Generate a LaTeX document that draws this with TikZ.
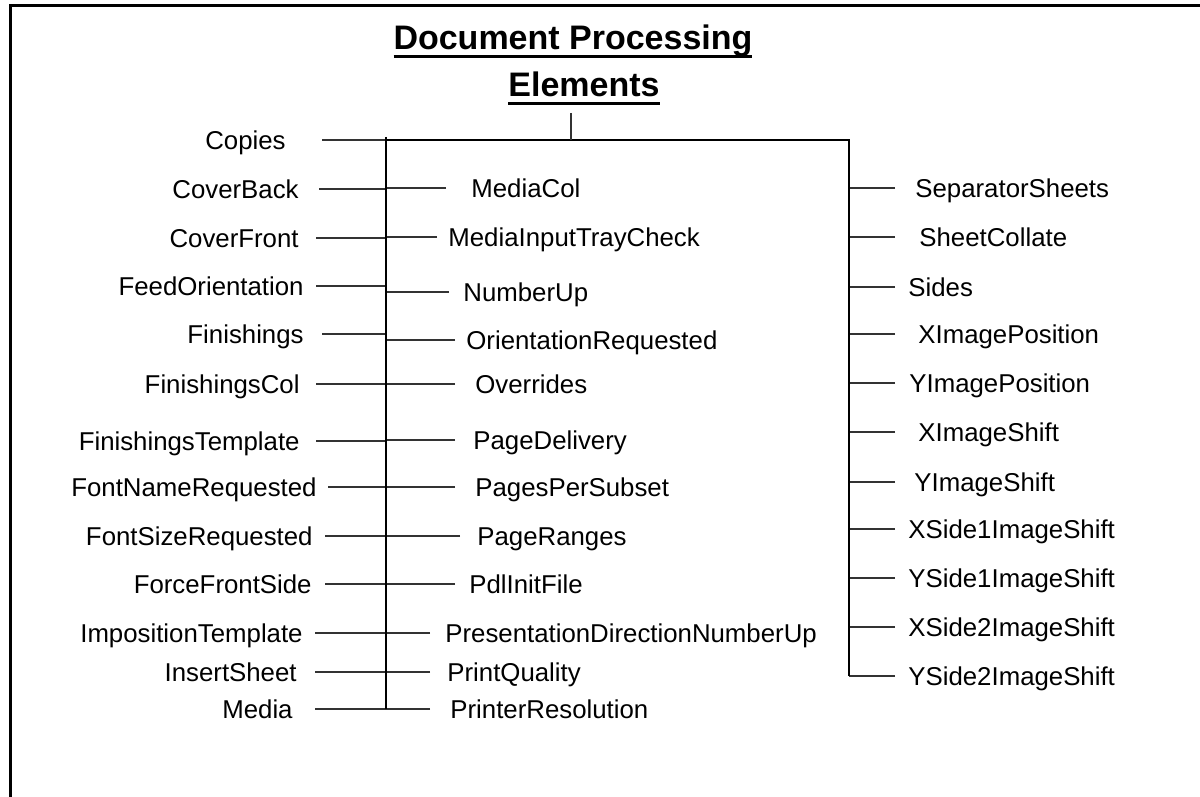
\documentclass[tikz,border=0pt]{standalone}
\usepackage{fontspec}
\setmainfont{Liberation Sans}
\usetikzlibrary{calc}

\newlength\ulwidth
\newcommand\ulbox[1]{\settowidth\ulwidth{#1}\rlap{\rule[-4.2pt]{\ulwidth}{1.5pt}}#1}

\begin{document}
\begin{tikzpicture}[x=0.5pt,y=-0.5pt,
  lbl/.style={inner sep=0pt, text height=9.2pt, text depth=0pt, font=\fontsize{12.9}{15}\selectfont},
  ttl/.style={inner sep=0pt, anchor=base, font=\fontsize{17}{20}\selectfont\bfseries},
  conn/.style={draw=black!80, line width=0.6pt},
  bar/.style={draw=black, line width=1pt}]

\useasboundingbox (0,0) rectangle (1200,797);
\draw[line width=1.5pt] (10,797) -- (10,6) -- (1200,6);

% title
\node[ttl] (title) at (573,50) {\ulbox{Document Processing}};
\node[ttl] (titleb) at (584,97) {\ulbox{Elements}};

\coordinate (trunk) at (386,137);
\coordinate (bus) at (849,140);
\coordinate (stub) at (571,113);

% left column: name/text/right edge/gap/y
\foreach \n/\lab/\x/\g/\y in {
    copies/Copies/286/36/140,
    coverback/CoverBack/299/20/189,
    coverfront/CoverFront/299/17/238,
    feedor/FeedOrientation/304/12/286,
    fin/Finishings/304/18/334,
    fincol/FinishingsCol/300/16/384,
    fintpl/FinishingsTemplate/300/16/441,
    fontname/FontNameRequested/317/11/487,
    fontsize/FontSizeRequested/313/12/536,
    force/ForceFrontSide/312/13/584,
    impos/ImpositionTemplate/303/12/633,
    insert/InsertSheet/297/18/672,
    media/Media/293/22/709} {
    \node[lbl, anchor=east] (\n) at (\x,\y) {\lab};
    \draw[conn] (\n.east) ++(\g,0) -- (\n.east -| trunk);
}

% middle column: name/text/left edge/gap/y
\foreach \n/\lab/\x/\g/\y in {
    mediacol/MediaCol/471/25/188,
    traycheck/MediaInputTrayCheck/448/11/237,
    numup/NumberUp/463/14/292,
    orient/OrientationRequested/466/11/340,
    over/Overrides/475/20/384,
    delivery/PageDelivery/473/18/440,
    subset/PagesPerSubset/475/20/487,
    ranges/PageRanges/477/17/536,
    pdl/PdlInitFile/469/14/584,
    presdir/PresentationDirectionNumberUp/445/15/633,
    quality/PrintQuality/447/17/672,
    resol/PrinterResolution/450/20/709} {
    \node[lbl, anchor=west] (\n) at (\x,\y) {\lab};
    \draw[conn] (\n.west) ++(-\g,0) -- (\n.west -| trunk);
}

% right column: name/text/left edge/gap/y
\foreach \n/\lab/\x/\g/\y in {
    sepsheets/SeparatorSheets/915/20/188,
    collate/SheetCollate/919/24/237,
    sides/Sides/908/13/287,
    ximgpos/XImagePosition/918/23/334,
    yimgpos/YImagePosition/909/14/383,
    ximgshift/XImageShift/918/23/432,
    yimgshift/YImageShift/914/19/482,
    xsa/XSide1ImageShift/908/13/529,
    ysa/YSide1ImageShift/908/13/578,
    xsb/XSide2ImageShift/908/13/627,
    ysb/YSide2ImageShift/908/13/676} {
    \node[lbl, anchor=west] (\n) at (\x,\y) {\lab};
    \draw[conn] (\n.west) ++(-\g,0) -- (\n.west -| bus);
}

% trunk and bus
\draw[bar] (trunk) -- (media.east -| trunk);
\draw[bar] (copies.east -| trunk) -- (bus) -- (ysb.west -| bus);
\draw[conn] (stub) -- (stub |- bus);

\end{tikzpicture}
\end{document}
